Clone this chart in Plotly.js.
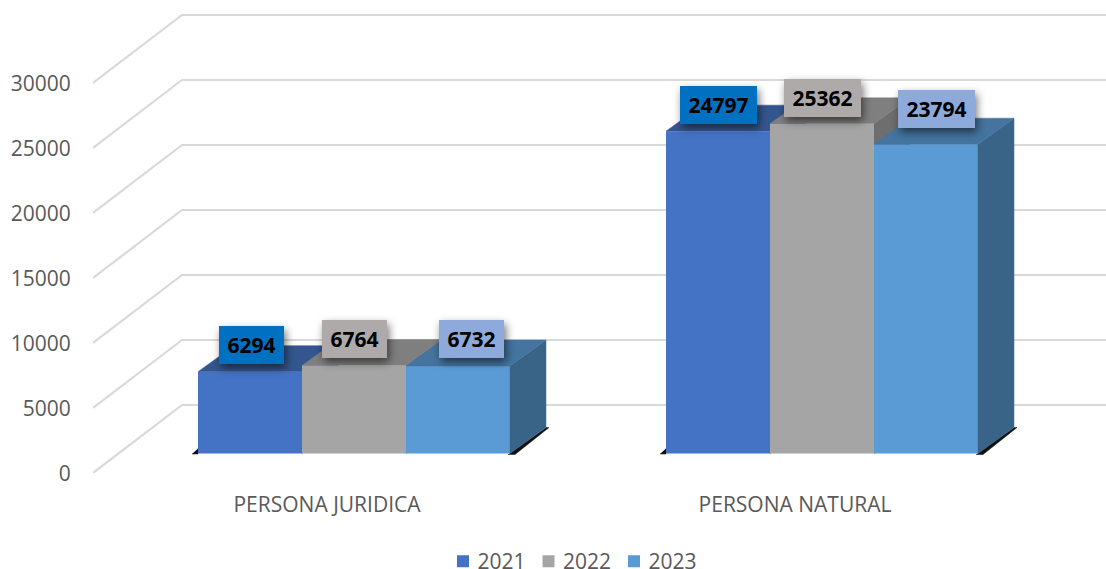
<!DOCTYPE html>
<html>
<head>
<meta charset="utf-8">
<script src="https://cdn.plot.ly/plotly-3.0.1.min.js"></script>
<style>
html,body{margin:0;padding:0;background:#fff;overflow:hidden}
.annotation .bg{filter:drop-shadow(2px 4px 4px rgba(0,0,0,.55));}
.legend .legendbar path{transform:scale(1.17);}
.legend .legendtext{transform:translateX(-5.5px);}
</style>
</head>
<body>
<div id="chart" style="width:1106px;height:569px"></div>
<script>
// ---- data ----
const categories = ["PERSONA JURIDICA", "PERSONA NATURAL"];
const years = ["2021", "2022", "2023"];
const values2021 = [6294, 24797];
const values2022 = [6764, 25362];
const values2023 = [6732, 23794];
const yTicks = [0, 5000, 10000, 15000, 20000, 25000, 30000];

// ---- style ----
const frontColors = ["#4472C4", "#A5A5A5", "#5B9BD5"];
const topColors = ["#34568F", "#7F7F7F", "#44749F"];
const sideColors = ["#2F4D80", "#6E6E6E", "#396488"];
const labelColors = ["#0070C0", "#AEAAAA", "#8EAADB"];
const labelShiftX = [[1.5, 0.5], [0.5, 0.5], [13.5, 10.5]];
const labelShiftY = [[26.5, 26], [26.5, 26], [26.5, 35]];
const labelWidths = [65, 77];

// ---- projection: pixels per data unit on the front plane ----
const W = 1106, H = 569;
const mL = 93, mB = 96;
const plotH = H - mB;
const pxPerCat = 468, pxPerVal = 0.013;
const xMin = -0.5, xMax = xMin + (W - mL) / pxPerCat, yMax = plotH / pxPerVal;
const px = p => p / pxPerCat, pv = p => p / pxPerVal;

const wallDX = px(89), wallDY = pv(68);      // front plane to back wall
const barShift = px(27), barBase = pv(19.5); // front plane to front of bars
const depthX = px(36), depthY = pv(26);      // depth of a bar
const barW = px(104);
const series = [values2021, values2022, values2023];

// gridlines
const gx = [], gy = [];
yTicks.forEach(t => {
  gx.push(xMin, xMin + wallDX, xMax, null);
  gy.push(t, t + wallDY, t + wallDY, null);
});
const gridTrace = {x: gx, y: gy, mode: "lines", line: {color: "#D9D9D9", width: 2.2},
  showlegend: false, hoverinfo: "skip", xaxis: "x", yaxis: "y"};

// floor shadow under the bars
const sx = [], sy = [];
categories.forEach((c, i) => {
  const c0 = i + barShift;
  const L = c0 - 1.5 * barW, R = c0 + 1.5 * barW;
  sx.push(L - px(6), L, L, null);
  sy.push(barBase - pv(0.5), barBase - pv(0.5), barBase + pv(5), null);
  sx.push(R - px(2), R + px(5), R + depthX + px(3), R + depthX, null);
  sy.push(barBase - pv(1), barBase - pv(1), barBase + depthY, barBase + depthY, null);
});
const shadowTrace = {x: sx, y: sy, mode: "lines", fill: "toself", fillcolor: "#111",
  line: {color: "#111", width: 0.5}, showlegend: false, hoverinfo: "skip", xaxis: "x", yaxis: "y"};

function barLeft(s, i) { return i + barShift + (s - 1.5) * barW; }

function faces(s, axisX, axisY) {
  const xs = [], ys = [], xt = [], yt = [];
  series[s].forEach((v, i) => {
    const l = barLeft(s, i), r = l + barW, top = barBase + v;
    xs.push(r, r + depthX, r + depthX, r, r, null);
    ys.push(barBase, barBase + depthY, top + depthY, top, barBase, null);
    xt.push(l, l + depthX, r + depthX, r, l, null);
    yt.push(top, top + depthY, top + depthY, top, top, null);
  });
  const common = {mode: "lines", fill: "toself", showlegend: false, hoverinfo: "skip",
    xaxis: axisX, yaxis: axisY};
  return [
    Object.assign({x: xs, y: ys, fillcolor: sideColors[s], line: {color: sideColors[s], width: 0.5}}, common),
    Object.assign({x: xt, y: yt, fillcolor: topColors[s], line: {color: topColors[s], width: 0.5}}, common)
  ];
}

const barTraces = years.map((yr, s) => ({
  type: "bar", name: yr,
  x: categories.map((c, i) => i + barShift),
  y: series[s],
  base: barBase,
  width: barW,
  offset: (s - 1.5) * barW,
  marker: {color: frontColors[s], line: {width: 0}},
  xaxis: "x2", yaxis: "y2",
  hovertemplate: "%{y}<extra>" + yr + "</extra>"
}));

// back layer: grid, shadow, depth of the first two series
// front layer: bars and depth of the third series
const traces = [gridTrace, shadowTrace]
  .concat(faces(0, "x", "y"), faces(1, "x", "y"))
  .concat(barTraces, faces(2, "x2", "y2"));

const annotations = [];
years.forEach((yr, s) => {
  series[s].forEach((v, i) => {
    annotations.push({
      x: barLeft(s, i) + barW / 2, y: barBase + v, xref: "x", yref: "y",
      text: "<b>" + v + "</b>", showarrow: false,
      xanchor: "center", yanchor: "middle",
      xshift: labelShiftX[s][i], yshift: labelShiftY[s][i],
      width: labelWidths[i], height: 38, borderpad: 0, borderwidth: 0,
      bgcolor: labelColors[s],
      font: {family: "Open Sans, sans-serif", size: 21, color: "#000"}
    });
  });
});

const layout = {
  width: W, height: H,
  margin: {l: mL, r: 0, t: 0, b: mB, autoexpand: false},
  paper_bgcolor: "#fff", plot_bgcolor: "rgba(0,0,0,0)",
  barmode: "overlay",
  font: {family: "Open Sans, sans-serif", color: "#595959"},
  xaxis: {range: [xMin, xMax], showgrid: false, zeroline: false, showline: false,
    tickmode: "array", tickvals: categories.map((c, i) => i), ticktext: categories,
    ticks: "outside", ticklen: 13, tickcolor: "rgba(0,0,0,0)",
    tickfont: {size: 21, color: "#595959"}},
  yaxis: {range: [0, yMax], showgrid: false, zeroline: false, showline: false,
    tickmode: "array", tickvals: yTicks, ticktext: yTicks.map(String),
    ticks: "outside", ticklen: 17, tickcolor: "rgba(0,0,0,0)", ticklabelshift: 1,
    tickfont: {size: 21, color: "#595959"}},
  xaxis2: {range: [xMin, xMax], overlaying: "x", visible: false},
  yaxis2: {range: [0, yMax], overlaying: "y", visible: false},
  showlegend: true,
  legend: {orientation: "h", x: 443 / W, xref: "container", xanchor: "left", yref: "container",
    y: 0.013, yanchor: "middle", font: {size: 21, color: "#595959"},
    entrywidth: 40.5, entrywidthmode: "pixels",
    traceorder: "normal", itemclick: false, itemdoubleclick: false, bgcolor: "rgba(0,0,0,0)"},
  annotations: annotations
};

Plotly.newPlot("chart", traces, layout, {displayModeBar: false});
</script>
</body>
</html>
